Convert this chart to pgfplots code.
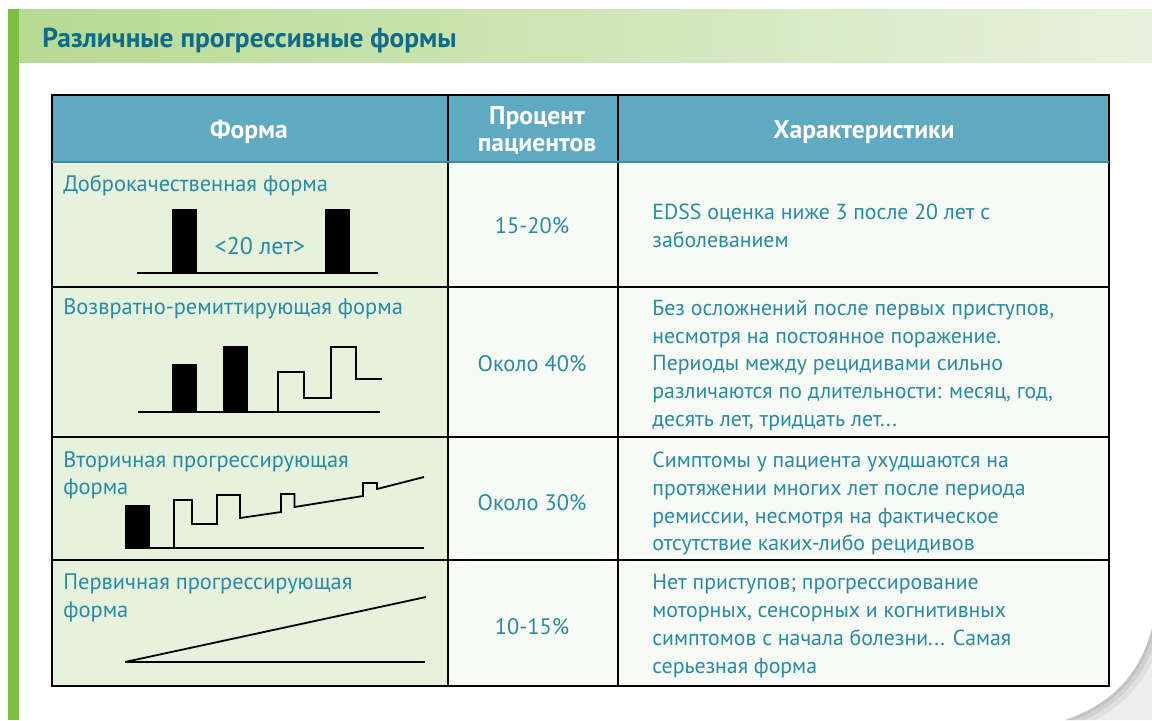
\documentclass[border=0pt]{standalone}
\usepackage{pgfplots}
\pgfplotsset{compat=1.18}
\usepackage{fontspec}
\setmainfont{PT Sans}
\definecolor{txt}{RGB}{38,140,165}
\definecolor{ttl}{RGB}{12,108,138}
\definecolor{hdr}{RGB}{96,169,195}
\definecolor{grid}{RGB}{70,155,180}
\definecolor{cellg}{RGB}{230,242,220}
\definecolor{cellw}{RGB}{247,250,245}
\definecolor{bandL}{RGB}{182,218,145}
\definecolor{bandR}{RGB}{232,241,221}
\definecolor{stripe}{RGB}{124,192,67}
\begin{document}
\begin{tikzpicture}
\begin{axis}[width=576pt,height=360pt,scale only axis,
  xmin=0,xmax=1152,ymin=0,ymax=720,y dir=reverse,
  hide axis,clip=false]
% background
\fill[white] (axis cs:0,0) rectangle (axis cs:1152,720);
% page curl corner
\fill[black!7] (axis cs:1152,628) .. controls (axis cs:1140,675) and (axis cs:1110,705) .. (axis cs:1065,720) -- (axis cs:1152,720) -- cycle;
\begin{scope}
\clip (axis cs:1152,628) .. controls (axis cs:1140,675) and (axis cs:1110,705) .. (axis cs:1065,720) -- (axis cs:1152,720) -- cycle;
\draw[line width=12pt,black,opacity=0.05] (axis cs:1152,628) .. controls (axis cs:1140,675) and (axis cs:1110,705) .. (axis cs:1065,720);
\draw[line width=7pt,black,opacity=0.06] (axis cs:1152,628) .. controls (axis cs:1140,675) and (axis cs:1110,705) .. (axis cs:1065,720);
\draw[line width=3pt,black,opacity=0.07] (axis cs:1152,628) .. controls (axis cs:1140,675) and (axis cs:1110,705) .. (axis cs:1065,720);
\end{scope}
% top band and stripe
\fill[left color=bandL,right color=bandR] (axis cs:19,9) rectangle (axis cs:1152,62);
\fill[stripe] (axis cs:8,9) rectangle (axis cs:19,720);
\node[anchor=base west,inner sep=0pt,text=ttl,font=\fontsize{13.7}{16}\selectfont\bfseries] at (axis cs:42,47) {Различные прогрессивные формы};
% cells
\addplot[draw=none,fill=hdr] coordinates {(52,95)(1109,95)(1109,162)(52,162)} -- cycle;
\addplot[draw=none,fill=cellg] coordinates {(52,162)(448,162)(448,686)(52,686)} -- cycle;
\addplot[draw=none,fill=cellw] coordinates {(448,162)(1109,162)(1109,686)(448,686)} -- cycle;
% grid
\addplot[grid,line width=0.8pt] coordinates {(52,95)(1109,95)(1109,686)(52,686)} -- cycle;
\addplot[grid,line width=0.8pt] coordinates {(448,95)(448,686)};
\addplot[grid,line width=0.8pt] coordinates {(618,95)(618,686)};
\addplot[grid!90!black,line width=0.9pt] coordinates {(52,162)(1109,162)};
\addplot[grid,line width=0.8pt] coordinates {(52,287)(1109,287)};
\addplot[grid,line width=0.8pt] coordinates {(52,437)(1109,437)};
\addplot[grid,line width=0.8pt] coordinates {(52,560)(1109,560)};
% header text
\begin{scope}[every node/.style={text=white,font=\fontsize{12.8}{15}\selectfont\bfseries,anchor=base,inner sep=0pt}]
\node at (axis cs:249,138) {Форма};
\node at (axis cs:537,124) {Процент};
\node at (axis cs:537,151) {пациентов};
\node at (axis cs:864,138) {Характеристики};
\end{scope}
% column 1 labels
\begin{scope}[every node/.style={text=txt,font=\fontsize{11.2}{13}\selectfont,anchor=base west,inner sep=0pt}]
\node at (axis cs:63,191) {Доброкачественная форма};
\node at (axis cs:63,314) {Возвратно-ремиттирующая форма};
\node at (axis cs:63,467) {Вторичная прогрессирующая};
\node at (axis cs:63,494) {форма};
\node at (axis cs:63,589) {Первичная прогрессирующая};
\node at (axis cs:63,617) {форма};
\end{scope}
% column 3
\begin{scope}[every node/.style={text=txt,font=\fontsize{10.9}{13}\selectfont,anchor=base west,inner sep=0pt}]
\node at (axis cs:652,219) {EDSS оценка ниже 3 после 20 лет с};
\node at (axis cs:652,247) {заболеванием};
\node at (axis cs:652,315) {Без осложнений после первых приступов,};
\node at (axis cs:652,343) {несмотря на постоянное поражение.};
\node at (axis cs:652,370) {Периоды между рецидивами сильно};
\node at (axis cs:652,398) {различаются по длительности: месяц, год,};
\node at (axis cs:652,426) {десять лет, тридцать лет...};
\node at (axis cs:652,467) {Симптомы у пациента ухудшаются на};
\node at (axis cs:652,495) {протяжении многих лет после периода};
\node at (axis cs:652,523) {ремиссии, несмотря на фактическое};
\node at (axis cs:652,550) {отсутствие каких-либо рецидивов};
\node at (axis cs:652,589) {Нет приступов; прогрессирование};
\node at (axis cs:652,617) {моторных, сенсорных и когнитивных};
\node at (axis cs:652,645) {симптомов с начала болезни... Самая};
\node at (axis cs:652,673) {серьезная форма};
\end{scope}
% column 2
\begin{scope}[every node/.style={text=txt,font=\fontsize{11.2}{13}\selectfont,anchor=base,inner sep=0pt}]
\node at (axis cs:532,233) {15-20\%};
\node at (axis cs:532,371) {Около 40\%};
\node at (axis cs:532,510) {Около 30\%};
\node at (axis cs:532,634) {10-15\%};
\node[font=\fontsize{12}{14}\selectfont] at (axis cs:260,254) {<20 лет>};
\end{scope}
% diagram 1
\addplot[black,line width=0.9pt] coordinates {(137,273)(378,273)};
\addplot[fill=black,draw=none] coordinates {(172,273)(172,209)(197,209)(197,273)} -- cycle;
\addplot[fill=black,draw=none] coordinates {(325,273)(325,209)(350,209)(350,273)} -- cycle;
% diagram 2
\addplot[black,line width=0.9pt] coordinates {(138,412)(380,412)};
\addplot[fill=black,draw=none] coordinates {(172,412)(172,364)(197,364)(197,412)} -- cycle;
\addplot[fill=black,draw=none] coordinates {(223,412)(223,346)(248,346)(248,412)} -- cycle;
\addplot[black,line width=0.9pt] coordinates {(278,412)(278,372)(304,372)(304,398)(331,398)(331,347)(356,347)(356,379)(382,379)};
% diagram 3
\addplot[black,line width=0.9pt] coordinates {(125,548)(424,548)};
\addplot[fill=black,draw=none] coordinates {(125,548)(125,505)(150,505)(150,548)} -- cycle;
\addplot[black,line width=0.9pt] coordinates {(174,548)(174,500)(192,500)(192,524)(217,524)(217,495)(240,495)(240,518)(281,512)(281,494)(294.5,494)(294.5,507)(363,496)(363,483)(377,483)(377,489)(424,477)};
% diagram 4
\addplot[black,line width=0.9pt] coordinates {(125,662)(425,662)};
\addplot[black,line width=0.9pt] coordinates {(125,662)(426,597)};
\end{axis}
\pgfresetboundingbox
\path[use as bounding box] (current axis.south west) rectangle (current axis.north east);
\end{tikzpicture}
\end{document}
